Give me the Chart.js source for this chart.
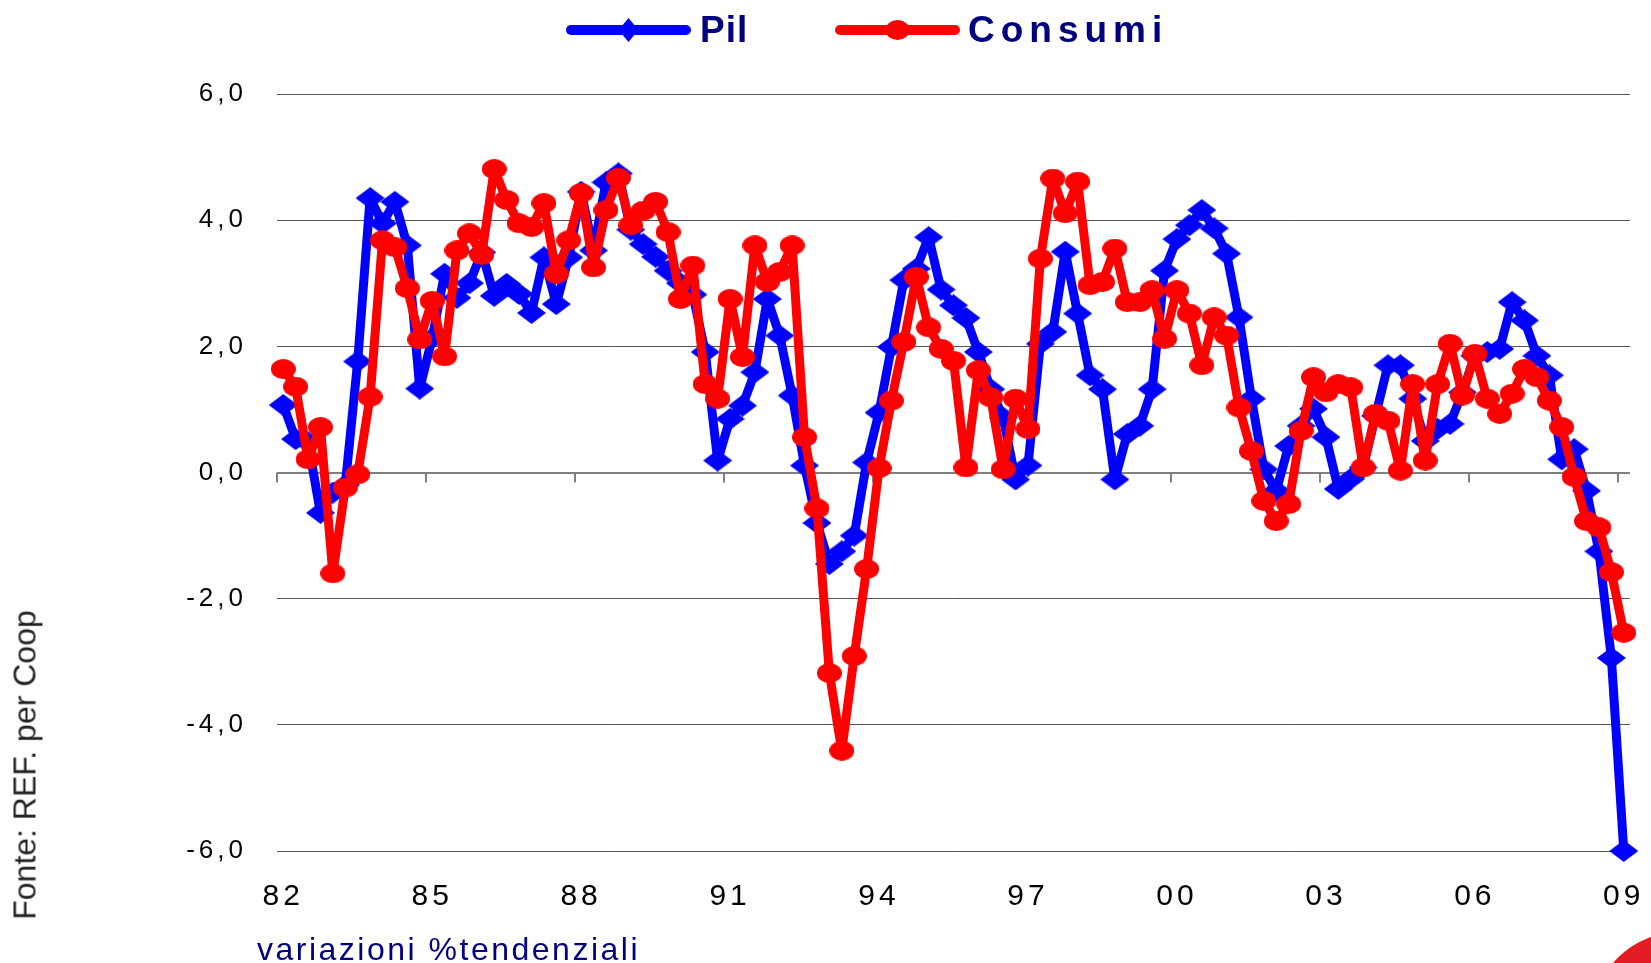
<!DOCTYPE html>
<html>
<head>
<meta charset="utf-8">
<script src="https://cdn.jsdelivr.net/npm/chart.js@4.4.1/dist/chart.umd.min.js"></script>
<style>
html,body{margin:0;padding:0;background:#fff;}
#wrap{position:relative;width:1651px;height:963px;overflow:hidden;font-family:"Liberation Sans",Arial,sans-serif;}
#c{position:absolute;left:0;top:0;}
.legItem{position:absolute;top:8px;height:44px;display:flex;align-items:center;}
.legText{font-weight:bold;font-size:37px;color:#000080;white-space:nowrap;}
#fonte{position:absolute;left:25px;top:765px;transform:translate(-50%,-50%) rotate(-90deg);font-size:32px;color:#222;white-space:nowrap;}
#note{position:absolute;left:257px;top:931px;font-size:32px;line-height:36px;color:#000080;letter-spacing:2.5px;white-space:nowrap;}
#logo{position:absolute;left:1592px;top:932px;width:176px;height:176px;box-sizing:border-box;border:26px solid #e31b23;border-radius:50%;}
</style>
</head>
<body>
<div id="wrap">
<canvas id="c" width="1651" height="963"></canvas>
<div id="fonte">Fonte: REF. per Coop</div>
<div id="note">variazioni %tendenziali</div>
<div id="logo"></div>
</div>
<script>
// ---- data ----
const tickLabels = ['82','85','88','91','94','97','00','03','06','09'];
const tickEvery = 12; // one label every 3 years (12 quarters)
const quarters = [];
for (let y = 1982; y <= 2009; y++) {
  for (let q = 1; q <= 4; q++) {
    if (y === 2009 && q > 1) break;
    quarters.push(y + ' T' + q);
  }
}
const pil = [
  1.07,0.53,0.48,-0.64,-0.32,-0.20,1.76,4.35,3.95,4.29,
  3.60,1.33,2.13,3.15,2.77,3.00,3.49,2.80,2.99,2.83,
  2.53,3.41,2.67,3.41,4.45,3.52,4.60,4.74,3.85,3.62,
  3.42,3.20,3.00,2.82,1.91,0.19,0.85,1.06,1.59,2.75,
  2.17,1.22,0.11,-0.80,-1.45,-1.25,-1.00,0.16,0.95,1.99,
  3.05,3.23,3.73,2.90,2.65,2.45,1.91,1.32,0.87,-0.11,
  0.11,2.04,2.23,3.50,2.52,1.54,1.32,-0.11,0.61,0.74,
  1.32,3.20,3.70,3.92,4.16,3.87,3.47,2.46,1.17,0.05,
  -0.29,0.42,0.74,1.01,0.56,-0.26,-0.10,0.08,0.90,1.70,
  1.70,1.17,0.50,0.69,0.77,1.27,1.85,1.91,1.96,2.70,
  2.41,1.85,1.54,0.21,0.37,-0.29,-1.25,-2.94,-6.00
];
const consumi = [
  1.64,1.36,0.21,0.72,-1.60,-0.24,-0.03,1.20,3.68,3.57,
  2.92,2.11,2.72,1.84,3.52,3.79,3.45,4.81,4.32,3.95,
  3.89,4.27,3.15,3.68,4.43,3.25,4.16,4.67,3.92,4.15,
  4.29,3.81,2.75,3.28,1.40,1.17,2.75,1.83,3.60,3.02,
  3.18,3.60,0.56,-0.57,-3.18,-4.41,-2.91,-1.53,0.07,1.14,
  2.07,3.10,2.30,1.96,1.77,0.08,1.62,1.19,0.05,1.17,
  0.69,3.39,4.66,4.11,4.61,2.97,3.02,3.55,2.70,2.70,
  2.89,2.12,2.89,2.52,1.70,2.46,2.17,1.03,0.34,-0.45,
  -0.77,-0.50,0.66,1.51,1.27,1.40,1.35,0.08,0.93,0.82,
  0.03,1.40,0.19,1.40,2.04,1.22,1.88,1.17,0.93,1.25,
  1.64,1.51,1.14,0.72,-0.07,-0.77,-0.87,-1.58,-2.54
];
const seriesNames = ['Pil', 'Consumi'];
const seriesColors = ['#0000ff', '#ff0000'];

// ---- marker images ----
function diamondImg(w, h, color) {
  const c = document.createElement('canvas'); c.width = w; c.height = h;
  const g = c.getContext('2d'); g.fillStyle = color; g.beginPath();
  g.moveTo(w/2, 0); g.lineTo(w, h/2); g.lineTo(w/2, h); g.lineTo(0, h/2); g.closePath(); g.fill();
  return c;
}
function ellipseImg(w, h, color) {
  const c = document.createElement('canvas'); c.width = w; c.height = h;
  const g = c.getContext('2d'); g.fillStyle = color; g.beginPath();
  g.ellipse(w/2, h/2, w/2, h/2, 0, 0, Math.PI*2); g.fill();
  return c;
}
const blueMarker = diamondImg(29, 22, seriesColors[0]);
const redMarker = ellipseImg(25, 20, seriesColors[1]);

// ---- plugins ----
const LS = '4px';
const spacing = {
  id: 'spacing',
  beforeLayout(chart) { chart.ctx.letterSpacing = LS; },
  beforeDraw(chart) { chart.ctx.letterSpacing = LS; }
};
const zeroTicks = {
  id: 'zeroTicks',
  beforeDatasetsDraw(chart) {
    const {ctx, scales: {x, y}} = chart;
    const y0 = y.getPixelForValue(0);
    const w = x.getPixelForValue(1) - x.getPixelForValue(0);
    ctx.save();
    ctx.strokeStyle = '#808080';
    ctx.lineWidth = 2;
    for (let i = 0; i < quarters.length; i += tickEvery) {
      const px = Math.round(x.getPixelForValue(i) - w / 2);
      ctx.beginPath(); ctx.moveTo(px, y0); ctx.lineTo(px, y0 + 10); ctx.stroke();
    }
    ctx.restore();
  }
};

Chart.defaults.font.family = '"Liberation Sans", Arial, sans-serif';
Chart.defaults.color = '#000';

const chart = new Chart(document.getElementById('c'), {
  type: 'line',
  data: {
    labels: quarters,
    datasets: [
      {label: seriesNames[0], data: pil, borderColor: seriesColors[0], backgroundColor: seriesColors[0],
       borderWidth: 9, borderJoinStyle: 'round', pointStyle: blueMarker, pointRadius: 12, pointHoverRadius: 12,
       order: 1, clip: false, tension: 0},
      {label: seriesNames[1], data: consumi, borderColor: seriesColors[1], backgroundColor: seriesColors[1],
       borderWidth: 9, borderJoinStyle: 'round', pointStyle: redMarker, pointRadius: 12, pointHoverRadius: 12,
       order: 0, clip: false, tension: 0}
    ]
  },
  options: {
    responsive: false,
    devicePixelRatio: 1,
    animation: false,
    events: [],
    layout: {padding: {top: 94, left: 0, right: 18, bottom: 0}},
    plugins: {legend: {display: false}, tooltip: {enabled: false}},
    scales: {
      x: {
        type: 'category',
        offset: true,
        grid: {display: false, drawTicks: false},
        border: {display: false},
        ticks: {
          autoSkip: false, maxRotation: 0, minRotation: 0, padding: 28,
          font: {size: 30}, color: '#000',
          callback: (v, i) => (i % tickEvery === 0 ? tickLabels[i / tickEvery] : '')
        },
        afterFit: s => { s.height = 112; s.paddingLeft = 0; s.paddingRight = 0; }
      },
      y: {
        min: -6, max: 6,
        grid: {
          drawTicks: false,
          color: c => (c.tick && c.tick.value === 0 ? '#808080' : '#555'),
          lineWidth: c => (c.tick && c.tick.value === 0 ? 2 : 1)
        },
        border: {display: false},
        ticks: {
          stepSize: 2, padding: 30, font: {size: 26}, color: '#000',
          callback: v => v.toFixed(1).replace('.', ',')
        },
        afterFit: s => { s.width = 277; s.paddingTop = 0; s.paddingBottom = 0; }
      }
    }
  },
  plugins: [spacing, zeroTicks]
});

// ---- legend (HTML, built from the datasets) ----
const legendLeft = [566, 835];
const legendLetter = ['1px', '6px'];
const wrap = document.getElementById('wrap');
chart.data.datasets.forEach((ds, i) => {
  const item = document.createElement('div');
  item.className = 'legItem';
  item.style.left = legendLeft[i] + 'px';
  const marker = i === 0
    ? '<polygon points="52.5,15 62.5,3 72.5,15 62.5,27" fill="' + ds.borderColor + '"/>'
    : '<ellipse cx="62.5" cy="15" rx="12" ry="10" fill="' + ds.borderColor + '"/>';
  item.innerHTML = '<svg width="125" height="30" viewBox="0 0 125 30"><line x1="5" y1="15" x2="120" y2="15" stroke="' +
    ds.borderColor + '" stroke-width="10" stroke-linecap="round"/>' + marker + '</svg>' +
    '<span class="legText" style="margin-left:' + (i === 0 ? 9 : 8) + 'px;letter-spacing:' + legendLetter[i] + '">' + ds.label + '</span>';
  wrap.appendChild(item);
});
</script>
</body>
</html>
